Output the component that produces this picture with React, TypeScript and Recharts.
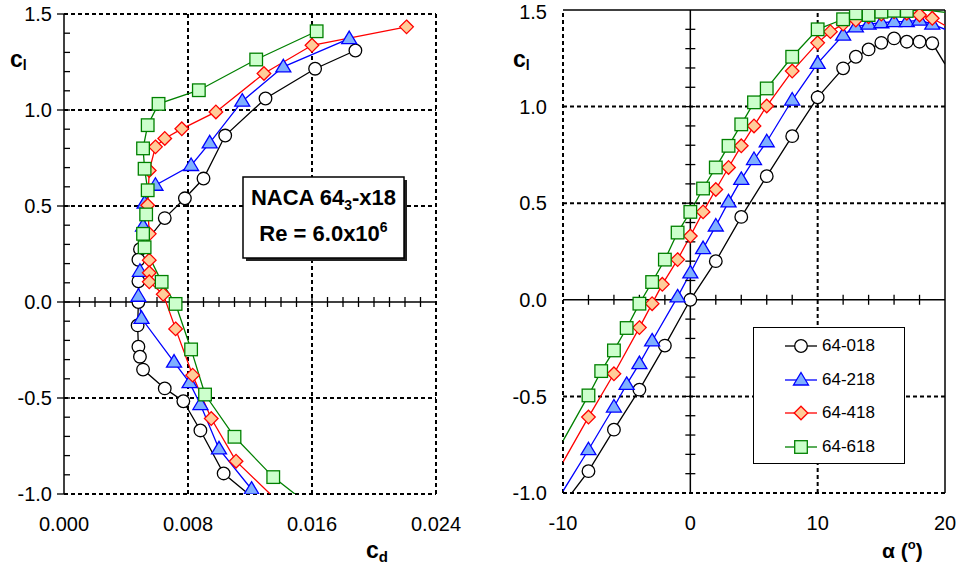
import React from 'react'
import { LineChart, Line, XAxis, YAxis, ReferenceLine, ReferenceDot, Legend } from 'recharts'

const FONT = '"Liberation Sans", Arial, sans-serif'

// drag polar, cd vs cl (points listed top to bottom)
const cd018 = [0.0188, 0.0162, 0.013, 0.0104, 0.009, 0.0078, 0.0065, 0.0049, 0.0048, 0.0048, 0.0048, 0.00475, 0.0048, 0.0049, 0.0051, 0.0065, 0.0077, 0.0088, 0.0103]
const cl018 = [1.31, 1.215, 1.06, 0.867, 0.643, 0.54, 0.437, 0.275, 0.22, 0.108, 0.0, -0.122, -0.233, -0.285, -0.352, -0.45, -0.517, -0.669, -0.893]
const cd218 = [0.0184, 0.01415, 0.0115, 0.0094, 0.0082, 0.0059, 0.0052, 0.0051, 0.0049, 0.0048, 0.005, 0.0071, 0.0081, 0.0088, 0.01, 0.0121]
const cl218 = [1.372, 1.225, 1.046, 0.829, 0.711, 0.608, 0.515, 0.395, 0.16, 0.03, -0.085, -0.313, -0.42, -0.534, -0.765, -0.975]
const cd418 = [0.0221, 0.016, 0.0129, 0.0098, 0.0076, 0.0065, 0.0059, 0.0055, 0.0054, 0.0055, 0.0055, 0.0055, 0.0055, 0.0064, 0.0072, 0.0083, 0.0095, 0.0111]
const cl418 = [1.433, 1.337, 1.19, 0.99, 0.902, 0.852, 0.808, 0.685, 0.504, 0.355, 0.218, 0.152, 0.105, 0.04, -0.14, -0.381, -0.607, -0.829]
const cd618 = [0.0163, 0.0124, 0.0087, 0.0061, 0.0054, 0.0051, 0.0052, 0.0054, 0.0053, 0.0051, 0.0052, 0.0063, 0.0072, 0.0082, 0.0091, 0.011, 0.0135]
const cl618 = [1.41, 1.263, 1.103, 1.032, 0.921, 0.8, 0.694, 0.582, 0.456, 0.355, 0.285, 0.105, -0.01, -0.247, -0.482, -0.702, -0.912]
// where each polar line runs out through the bottom of the frame (no marker)
const polarEnd018 = [[0.0119, -1.0]]
const polarEnd218 = [[0.0124, -1.0]]
const polarEnd418 = [[0.0133, -1.0]]
const polarEnd618 = [[0.0149, -1.0]]

// lift curve, alpha (deg) vs cl
const a018 = [-8, -6, -4, -2, 0, 2, 4, 6, 8, 10, 12, 13, 14, 15, 16, 17, 18, 19]
const l018 = [-0.887, -0.672, -0.465, -0.237, 0, 0.2, 0.429, 0.64, 0.847, 1.048, 1.198, 1.258, 1.296, 1.33, 1.353, 1.336, 1.336, 1.328]
const a218 = [-8, -6, -5, -4, -3, -1, 0, 1, 2, 3, 4, 5, 6, 8, 10, 12, 13, 14, 15, 16, 17, 18, 19]
const l218 = [-0.776, -0.555, -0.438, -0.33, -0.213, 0.015, 0.139, 0.265, 0.382, 0.507, 0.623, 0.726, 0.818, 1.034, 1.224, 1.37, 1.413, 1.427, 1.434, 1.44, 1.44, 1.448, 1.427]
const a418 = [-8, -6, -4, -3, -2.2, -1, 0, 1, 2, 3, 4, 5, 6, 8, 10, 11, 12, 13, 14, 15, 16, 17, 18, 19]
const l418 = [-0.607, -0.383, -0.144, -0.02, 0.08, 0.208, 0.33, 0.455, 0.571, 0.685, 0.797, 0.9, 1.003, 1.184, 1.33, 1.388, 1.427, 1.448, 1.465, 1.479, 1.491, 1.483, 1.474, 1.457]
const a618 = [-8, -7, -6, -5, -4, -3, -2, -1, 0, 1, 2, 3, 4, 5, 6, 8, 10, 12, 13, 14, 15, 16, 17]
const l618 = [-0.495, -0.369, -0.262, -0.146, -0.02, 0.092, 0.208, 0.348, 0.455, 0.576, 0.685, 0.797, 0.908, 1.022, 1.094, 1.258, 1.4, 1.452, 1.483, 1.474, 1.491, 1.496, 1.495]
// unmarked line ends at the frame edges
const liftStart018 = [[-9.3, -1.0]]
const liftStart218 = [[-10, -0.99]]
const liftStart418 = [[-10, -0.84]]
const liftStart618 = [[-10, -0.73]]
const liftEnd018 = [[20, 1.22]]
const liftEnd218 = [[20, 1.4]]
const liftEnd418 = [[20, 1.42]]
const liftEnd618 = [[18.5, 1.5], [20, 1.488]]

const clTicks = [-1, -0.5, 0, 0.5, 1, 1.5]
const cdTicks = [0, 0.008, 0.016, 0.024]
const alphaTicks = [-10, 0, 10, 20]
const clMinor = Array.from({ length: 24 }, (_, i) => Math.round((-0.9 + i * 0.1) * 10) / 10)
const cdMinor = Array.from({ length: 23 }, (_, i) => (i + 1) / 1000)
const alphaMinor = [-8, -6, -4, -2, 2, 4, 6, 8, 12, 14, 16, 18]

type Kind = 'circle' | 'triangle' | 'diamond' | 'square'
interface SeriesStyle {
  name: string
  color: string
  fill: string
  kind: Kind
}

const styles: SeriesStyle[] = [
  { name: '64-018', color: '#000000', fill: '#ffffff', kind: 'circle' },
  { name: '64-218', color: '#0000ff', fill: '#7fb0ff', kind: 'triangle' },
  { name: '64-418', color: '#ff0000', fill: '#ffcc99', kind: 'diamond' },
  { name: '64-618', color: '#008000', fill: '#ccffcc', kind: 'square' },
]

function buildPoints(xKey: string, xs: number[], ys: number[], head: number[][] = [], tail: number[][] = []) {
  return [
    ...head.map(([x, y]) => ({ [xKey]: x, cl: y, m: false })),
    ...xs.map((x, i) => ({ [xKey]: x, cl: ys[i], m: true })),
    ...tail.map(([x, y]) => ({ [xKey]: x, cl: y, m: false })),
  ]
}

const polarData = [
  buildPoints('cd', cd018, cl018, [], polarEnd018),
  buildPoints('cd', cd218, cl218, [], polarEnd218),
  buildPoints('cd', cd418, cl418, [], polarEnd418),
  buildPoints('cd', cd618, cl618, [], polarEnd618),
]

const liftData = [
  buildPoints('a', a018, l018, liftStart018, liftEnd018),
  buildPoints('a', a218, l218, liftStart218, liftEnd218),
  buildPoints('a', a418, l418, liftStart418, liftEnd418),
  buildPoints('a', a618, l618, liftStart618, liftEnd618),
]

function Marker({ s, cx, cy }: { s: SeriesStyle; cx: number; cy: number }) {
  const common = { fill: s.fill, stroke: s.color, strokeWidth: 1.3 }
  if (s.kind === 'circle') return <circle cx={cx} cy={cy} r={6.3} {...common} />
  if (s.kind === 'triangle')
    return <polygon points={`${cx},${cy - 7.5} ${cx + 7.5},${cy + 5} ${cx - 7.5},${cy + 5}`} {...common} />
  if (s.kind === 'diamond')
    return <polygon points={`${cx},${cy - 6.8} ${cx + 6.8},${cy} ${cx},${cy + 6.8} ${cx - 6.8},${cy}`} {...common} />
  return <rect x={cx - 6.3} y={cy - 6.3} width={12.6} height={12.6} {...common} />
}

const dotFor = (s: SeriesStyle, tag: string) => (p: any) => {
  const key = `${tag}-${s.name}-${p.index}`
  if (!p.payload || !p.payload.m) return <g key={key} />
  return (
    <g key={key}>
      <Marker s={s} cx={p.cx} cy={p.cy} />
    </g>
  )
}

const tickStyle = { fontSize: 20, fill: '#000', fontFamily: FONT }
const dotted = { stroke: '#000', strokeWidth: 2, strokeDasharray: '4 3' }
const solid = { stroke: '#000', strokeWidth: 1.5 }

const vTick = (p: any) => <line x1={p.cx} x2={p.cx} y1={p.cy - 5} y2={p.cy + 5} stroke="#000" strokeWidth={1.3} />
const hTick = (p: any) => <line x1={p.cx - 5} x2={p.cx + 5} y1={p.cy} y2={p.cy} stroke="#000" strokeWidth={1.3} />
const inTick = (p: any) => <line x1={p.cx} x2={p.cx + 6} y1={p.cy} y2={p.cy} stroke="#000" strokeWidth={1.3} />

function LegendBox() {
  return (
    <div
      style={{
        width: 152,
        height: 137,
        boxSizing: 'border-box',
        border: '1.5px solid #000',
        background: '#fff',
        position: 'relative',
        fontFamily: FONT,
      }}
    >
      {styles.map((s, i) => (
        <div
          key={s.name}
          style={{ position: 'absolute', left: 0, top: 5 + i * 33.7, height: 26, display: 'flex', alignItems: 'center' }}
        >
          <svg width={68} height={26}>
            <line x1={31} x2={63} y1={13} y2={13} stroke={s.color} strokeWidth={1.3} />
            <Marker s={s} cx={47} cy={13} />
          </svg>
          <span style={{ fontSize: 17, color: '#000' }}>{s.name}</span>
        </div>
      ))}
    </div>
  )
}

function DragPolar() {
  return (
    <LineChart width={470} height={565} margin={{ top: 14, right: 34, bottom: 0, left: 0 }}>
      <XAxis
        type="number"
        dataKey="cd"
        domain={[0, 0.024]}
        ticks={cdTicks}
        allowDataOverflow
        axisLine={false}
        tickLine={false}
        tickSize={6}
        tickMargin={17}
        height={71}
        tick={tickStyle}
        tickFormatter={(v: number) => v.toFixed(3)}
      />
      <YAxis
        type="number"
        domain={[-1, 1.5]}
        ticks={clTicks}
        allowDataOverflow
        width={64}
        axisLine={solid}
        tickLine={{ stroke: '#000', strokeWidth: 1.3 }}
        tickSize={7}
        tickMargin={5}
        tick={tickStyle}
        tickFormatter={(v: number) => v.toFixed(1)}
      />
      <ReferenceLine y={1.5} {...dotted} />
      <ReferenceLine y={-1} {...dotted} />
      <ReferenceLine x={0.024} {...dotted} />
      <ReferenceLine x={0.008} {...dotted} />
      <ReferenceLine x={0.016} {...dotted} />
      <ReferenceLine y={1} {...dotted} />
      <ReferenceLine y={0.5} {...dotted} />
      <ReferenceLine y={-0.5} {...dotted} />
      <ReferenceLine y={0} {...solid} />
      {cdMinor.map((v) => (
        <ReferenceDot key={'cx' + v} x={v} y={0} r={0} shape={vTick} />
      ))}
      {clMinor.map((v) => (
        <ReferenceDot key={'cy' + v} x={0} y={v} r={0} shape={inTick} />
      ))}
      {styles.map((s, i) => (
        <Line
          key={s.name}
          name={s.name}
          data={polarData[i]}
          dataKey="cl"
          type="linear"
          stroke={s.color}
          strokeWidth={1.3}
          dot={dotFor(s, 'p')}
          activeDot={false}
          isAnimationActive={false}
        />
      ))}
    </LineChart>
  )
}

function LiftCurve() {
  return (
    <LineChart width={478} height={565} margin={{ top: 10, right: 13, bottom: 0, left: 0 }}>
      <XAxis
        type="number"
        dataKey="a"
        domain={[-10, 20]}
        ticks={alphaTicks}
        allowDataOverflow
        axisLine={false}
        tickLine={false}
        tickSize={6}
        tickMargin={17}
        height={72}
        tick={tickStyle}
      />
      <YAxis
        type="number"
        domain={[-1, 1.5]}
        ticks={clTicks}
        allowDataOverflow
        width={83}
        axisLine={false}
        tickLine={false}
        tickSize={0}
        tickMargin={16}
        tick={tickStyle}
        tickFormatter={(v: number) => v.toFixed(1)}
      />
      <ReferenceLine x={-10} {...dotted} />
      <ReferenceLine y={-1} {...dotted} />
      <ReferenceLine y={1.5} {...solid} />
      <ReferenceLine x={20} {...solid} />
      <ReferenceLine x={10} {...dotted} />
      <ReferenceLine y={1} {...dotted} />
      <ReferenceLine y={0.5} {...dotted} />
      <ReferenceLine y={-0.5} {...dotted} />
      <ReferenceLine x={0} {...solid} />
      <ReferenceLine y={0} {...solid} />
      {alphaMinor.map((v) => (
        <ReferenceDot key={'ax' + v} x={v} y={0} r={0} shape={vTick} />
      ))}
      {clMinor.map((v) => (
        <ReferenceDot key={'ay' + v} x={0} y={v} r={0} shape={hTick} />
      ))}
      {styles.map((s, i) => (
        <Line
          key={s.name}
          name={s.name}
          data={liftData[i]}
          dataKey="cl"
          type="linear"
          stroke={s.color}
          strokeWidth={1.3}
          dot={dotFor(s, 'l')}
          activeDot={false}
          isAnimationActive={false}
        />
      ))}
      <Legend
        layout="vertical"
        align="center"
        verticalAlign="middle"
        wrapperStyle={{ left: 273, top: 327, width: 152, height: 137 }}
        content={() => <LegendBox />}
      />
    </LineChart>
  )
}

export default function App() {
  return (
    <div style={{ position: 'absolute', left: 0, top: 0, width: 958, height: 565, background: '#fff', fontFamily: FONT }}>
      <div style={{ position: 'absolute', left: 0, top: 0 }}>
        <DragPolar />
      </div>
      <div style={{ position: 'absolute', left: 480, top: 0 }}>
        <LiftCurve />
      </div>
      <svg
        width={958}
        height={565}
        style={{ position: 'absolute', left: 0, top: 0, pointerEvents: 'none' }}
        fontFamily={FONT}
      >
        <text x={10} y={67} fontSize={23} fontWeight="bold">
          c<tspan fontSize={14} dy={3}>l</tspan>
        </text>
        <text x={513} y={67} fontSize={23} fontWeight="bold">
          c<tspan fontSize={14} dy={3}>l</tspan>
        </text>
        <text x={366} y={558} fontSize={23} fontWeight="bold">
          c<tspan fontSize={15} dy={4}>d</tspan>
        </text>
        <text x={882} y={558} fontSize={21} fontWeight="bold">
          α (<tspan fontSize={13} dy={-9}>o</tspan>
          <tspan dy={9}>)</tspan>
        </text>
        <rect x={246} y={180} width={161} height={81} fill="#222" />
        <rect x={243} y={177} width={161} height={81} fill="#fff" stroke="#000" strokeWidth={1.5} />
        <text x={323.5} y={205} fontSize={22} fontWeight="bold" textAnchor="middle">
          NACA 64<tspan fontSize={14} dy={5}>3</tspan>
          <tspan dy={-5}>-x18</tspan>
        </text>
        <text x={323.5} y={241} fontSize={22} fontWeight="bold" textAnchor="middle">
          Re = 6.0x10<tspan fontSize={14} dy={-9}>6</tspan>
        </text>
      </svg>
    </div>
  )
}
